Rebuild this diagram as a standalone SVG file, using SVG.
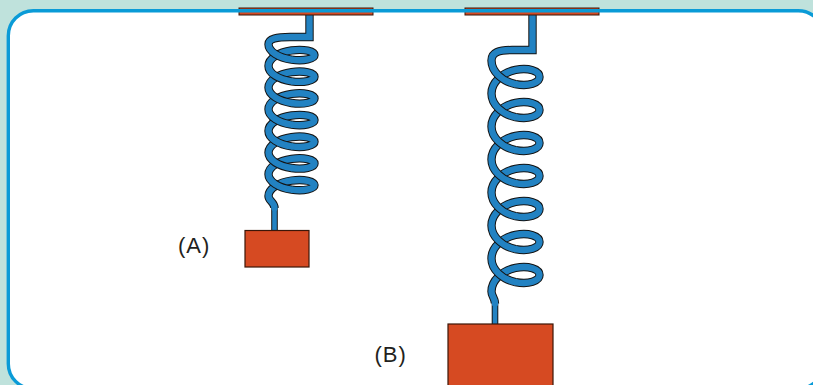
<svg xmlns="http://www.w3.org/2000/svg" xmlns:xlink="http://www.w3.org/1999/xlink" width="813" height="385" viewBox="0 0 813 385">
  <style>
    .ol { fill: none; stroke: #141414; stroke-width: 8.4; stroke-linecap: butt; stroke-linejoin: miter; }
    .core { fill: none; stroke: #2282c2; stroke-width: 6.4; stroke-linecap: round; stroke-linejoin: miter; }
    .rod-ol { fill: none; stroke: #141414; stroke-width: 6.6; stroke-linecap: butt; stroke-linejoin: miter; }
    .rod { fill: none; stroke: #2282c2; stroke-width: 4.6; stroke-linecap: butt; stroke-linejoin: miter; }
    .plate { fill: #d64a22; stroke: #3b1608; stroke-width: 1; }
    .mass { fill: #d64a22; stroke: #3b1608; stroke-width: 1.2; }
    .label { font-family: "Liberation Sans", Arial, sans-serif; font-size: 22px; fill: #231f20; letter-spacing: 1px; }
  </style>
  <defs>
    <!-- one full turn of each coil, from bottom-centre to bottom-centre -->
    <path id="turn-a" d="M291.5,59.62 c12.70,1.806 23,-0.863 23,-4.58 c0,-3.717 -10.30,-6.386 -23,-4.58 c-12.70,1.806 -23,8.091 -23,15.42 c0,7.329 10.30,13.614 23,15.42"/>
    <path id="turn-b" d="M515.5,84.05 c13.255,2.75 24,-1.35 24,-7.05 c0,-5.70 -10.745,-9.80 -24,-7.05 c-13.255,2.75 -24,12.35 -24,23.55 c0,11.20 10.745,20.80 24,23.55"/>
    <g id="wire-a"><use xlink:href="#turn-a" class="ol"/><use xlink:href="#turn-a" class="core"/></g>
    <g id="wire-b"><use xlink:href="#turn-b" class="ol"/><use xlink:href="#turn-b" class="core"/></g>
  </defs>

  <!-- backdrop and panel -->
  <rect x="0" y="0" width="813" height="385" fill="#bfe2dc"/>
  <rect x="8.3" y="10.7" width="815" height="378" rx="25" fill="#ffffff"/>

  <g id="connectors">
    <!-- spring A: drawn from the lowest turn upwards so upper strands lie on top -->
    <g id="spring-a">
      <path class="rod-ol" d="M274.5,205 V232"/>
      <path class="rod" d="M274.5,205 V232"/>
      <path class="ol" d="M291.5,189.70 c12.70,1.806 23,-0.863 23,-4.58 c0,-3.717 -10.30,-6.386 -23,-4.58 c-12.70,1.806 -23,8.091 -23,15.42 c0,5 6,6 6,12"/>
      <path class="core" d="M291.5,189.70 c12.70,1.806 23,-0.863 23,-4.58 c0,-3.717 -10.30,-6.386 -23,-4.58 c-12.70,1.806 -23,8.091 -23,15.42 c0,5 6,6 6,12"/>
      <use xlink:href="#wire-a" transform="translate(0,108.4)"/>
      <use xlink:href="#wire-a" transform="translate(0,86.72)"/>
      <use xlink:href="#wire-a" transform="translate(0,65.04)"/>
      <use xlink:href="#wire-a" transform="translate(0,43.36)"/>
      <use xlink:href="#wire-a" transform="translate(0,21.68)"/>
      <use xlink:href="#wire-a"/>
      <path class="ol" d="M309.5,13 V37 H290 C277,37 268.5,38.5 268.5,44.2 c0,7.329 10.30,13.614 23,15.42"/>
      <path class="core" d="M309.5,13 V37 H290 C277,37 268.5,38.5 268.5,44.2 c0,7.329 10.30,13.614 23,15.42"/>
    </g>
    <!-- spring B -->
    <g id="spring-b">
      <path class="rod-ol" d="M495,300 V325"/>
      <path class="rod" d="M495,300 V325"/>
      <path class="ol" d="M515.5,282.05 c13.255,2.75 24,-1.35 24,-7.05 c0,-5.70 -10.745,-9.80 -24,-7.05 c-13.255,2.75 -24,12.35 -24,23.55 c0,5 3.5,6 3.5,12"/>
      <path class="core" d="M515.5,282.05 c13.255,2.75 24,-1.35 24,-7.05 c0,-5.70 -10.745,-9.80 -24,-7.05 c-13.255,2.75 -24,12.35 -24,23.55 c0,5 3.5,6 3.5,12"/>
      <use xlink:href="#wire-b" transform="translate(0,165)"/>
      <use xlink:href="#wire-b" transform="translate(0,132)"/>
      <use xlink:href="#wire-b" transform="translate(0,99)"/>
      <use xlink:href="#wire-b" transform="translate(0,66)"/>
      <use xlink:href="#wire-b" transform="translate(0,33)"/>
      <use xlink:href="#wire-b"/>
      <path class="ol" d="M532.5,13 V50 H512 C499,50 491.5,52 491.5,60.5 c0,11.20 10.745,20.80 24,23.55"/>
      <path class="core" d="M532.5,13 V50 H512 C499,50 491.5,52 491.5,60.5 c0,11.20 10.745,20.80 24,23.55"/>
    </g>
  </g>

  <g id="mass-a"><rect class="mass" x="245" y="230.5" width="64" height="36.5"/></g>
  <g id="mass-b"><rect class="mass" x="448" y="324" width="105" height="70"/></g>

  <g id="plate-a"><rect class="plate" x="239" y="8" width="134" height="7"/></g>
  <g id="plate-b"><rect class="plate" x="465" y="8" width="134" height="7"/></g>

  <g id="label-a"><text class="label" x="178" y="252.5">(A)</text></g>
  <g id="label-b"><text class="label" x="374.5" y="362">(B)</text></g>

  <!-- panel border on top -->
  <rect x="8.3" y="10.7" width="815" height="378" rx="25" fill="none" stroke="#0a9bd7" stroke-width="3.4"/>
</svg>
